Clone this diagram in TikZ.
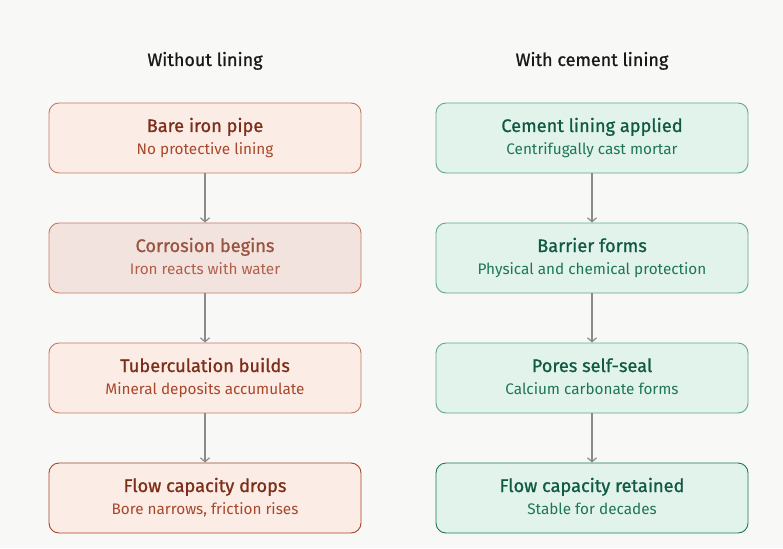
\documentclass[tikz,border=0pt]{standalone}
\usepackage{fontspec}
\setmainfont{Fira Sans}
\newfontfamily\titlefont[FakeBold=0.9]{Fira Sans}
\usetikzlibrary{arrows.meta}
\definecolor{bg}{HTML}{F8F8F6}
\definecolor{lfill}{HTML}{FBECE6}
\definecolor{lfilltwo}{HTML}{F3E3DE}
\definecolor{lborder}{HTML}{C47A60}
\definecolor{lborderdark}{HTML}{A8442C}
\definecolor{ltitle}{HTML}{7C2E18}
\definecolor{lsub}{HTML}{A9472B}
\definecolor{ltitletwo}{HTML}{985440}
\definecolor{lsubtwo}{HTML}{B0604A}
\definecolor{rfill}{HTML}{E2F3EC}
\definecolor{rborder}{HTML}{5DA98B}
\definecolor{rborderdark}{HTML}{1D7656}
\definecolor{rtitle}{HTML}{105A44}
\definecolor{rsub}{HTML}{1E7656}
\definecolor{arr}{HTML}{8A8A8A}
\tikzset{
  box/.style={draw, rounded corners=10pt, minimum width=312pt, minimum height=70pt, line width=0.9pt, inner sep=0pt},
  lbox/.style={box, fill=lfill, draw=lborder},
  rbox/.style={box, fill=rfill, draw=rborder},
  head/.style={font=\titlefont\fontsize{18}{20}\selectfont, text=black!90, anchor=base},
  ttl/.style={font=\titlefont\fontsize{18.2}{20}\selectfont, anchor=base, inner sep=0pt},
  sub/.style={font=\fontsize{15.3}{18}\selectfont, anchor=base, inner sep=0pt},
  flow/.style={draw=arr, line width=1.2pt, -{Straight Barb[length=4pt,width=9pt,line width=1.2pt]}}
}
\begin{document}
\begin{tikzpicture}[x=1pt,y=-1pt]
\fill[bg] (0,0) rectangle (783,548);
\useasboundingbox (0,0) rectangle (783,548);
\node[head] (hl) at (205,66) {Without lining};
\node[head] (hr) at (592,66) {With cement lining};
\node[lbox] (l1) at (205,138) {};
\node[lbox, fill=lfilltwo] (l2) at (205,258) {};
\node[lbox] (l3) at (205,378) {};
\node[lbox, draw=lborderdark] (l4) at (205,498) {};
\node[rbox] (r1) at (592,138) {};
\node[rbox] (r2) at (592,258) {};
\node[rbox] (r3) at (592,378) {};
\node[rbox, draw=rborderdark] (r4) at (592,498) {};
% texts
\node[ttl, text=ltitle] (l1t) at (205,132) {Bare iron pipe};
\node[sub, text=lsub] (l1s) at (205,154) {No protective lining};
\node[ttl, text=ltitletwo] (l2t) at (205,252) {Corrosion begins};
\node[sub, text=lsubtwo] (l2s) at (205,274) {Iron reacts with water};
\node[ttl, text=ltitle] (l3t) at (205,372) {Tuberculation builds};
\node[sub, text=lsub] (l3s) at (205,394) {Mineral deposits accumulate};
\node[ttl, text=ltitle] (l4t) at (205,492) {Flow capacity drops};
\node[sub, text=lsub] (l4s) at (205,514) {Bore narrows, friction rises};
\node[ttl, text=rtitle] (r1t) at (592,132) {Cement lining applied};
\node[sub, text=rsub] (r1s) at (592,154) {Centrifugally cast mortar};
\node[ttl, text=rtitle] (r2t) at (592,252) {Barrier forms};
\node[sub, text=rsub] (r2s) at (592,274) {Physical and chemical protection};
\node[ttl, text=rtitle] (r3t) at (592,372) {Pores self-seal};
\node[sub, text=rsub] (r3s) at (592,394) {Calcium carbonate forms};
\node[ttl, text=rtitle] (r4t) at (592,492) {Flow capacity retained};
\node[sub, text=rsub] (r4s) at (592,514) {Stable for decades};
\draw[flow] (l1) -- (l2);
\draw[flow] (l2) -- (l3);
\draw[flow] (l3) -- (l4);
\draw[flow] (r1) -- (r2);
\draw[flow] (r2) -- (r3);
\draw[flow] (r3) -- (r4);
\end{tikzpicture}
\end{document}
